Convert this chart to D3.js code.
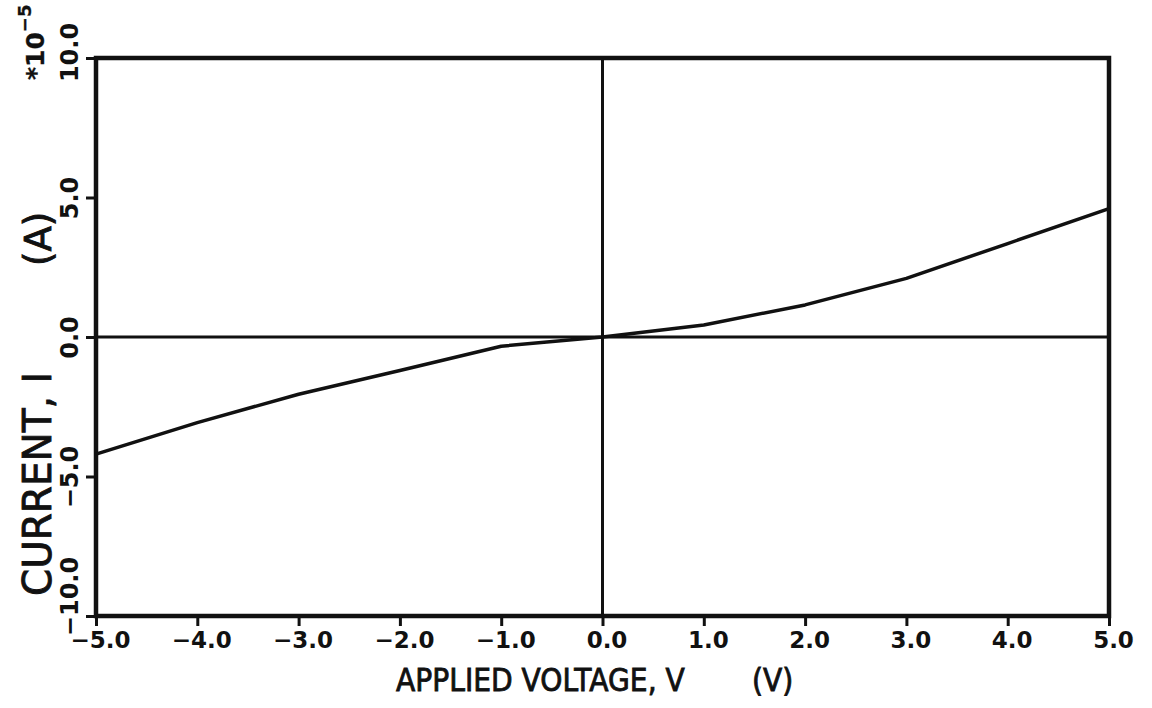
<!DOCTYPE html>
<html>
<head>
<meta charset="utf-8">
<script src="https://cdn.jsdelivr.net/npm/d3@7"></script>
<style>
  body { margin: 0; background: #fff; }
  svg { display: block; }
  .tick text { font-family: "DejaVu Sans", sans-serif; font-weight: bold; fill: #111; }
  .lbl { font-family: "DejaVu Sans", sans-serif; fill: #111; stroke: #111; stroke-width: 0.9px; }
</style>
</head>
<body>
<div class="chart"></div>
<script>
// I-V curve, current in units of 1e-5 A
const voltage = [-5, -4, -3, -2, -1, 0, 1, 2, 3, 4, 5];
const current = [-4.2, -3.07, -2.05, -1.2, -0.33, 0, 0.43, 1.15, 2.1, 3.35, 4.6];
const xTicks = [-5, -4, -3, -2, -1, 0, 1, 2, 3, 4, 5];
const yTicks = [-10, -5, 0, 5, 10];

const width = 1152, height = 708;
const margin = { top: 58, right: 43, bottom: 92, left: 96 };
const plotW = width - margin.left - margin.right;
const plotH = height - margin.top - margin.bottom;

const svg = d3.select(".chart").append("svg")
  .attr("width", width)
  .attr("height", height);

const g = svg.append("g")
  .attr("transform", `translate(${margin.left},${margin.top})`);

const x = d3.scaleLinear().domain([-5, 5]).range([0, plotW]);
const y = d3.scaleLinear().domain([-10, 10]).range([plotH, 0]);

// x axis
const xAxis = g.append("g")
  .attr("transform", `translate(0,${plotH})`)
  .call(d3.axisBottom(x).tickValues(xTicks).tickSize(10).tickPadding(6).tickFormat(d3.format(".1f")));
xAxis.select(".domain").remove();
xAxis.selectAll(".tick line").attr("stroke", "#111").attr("stroke-width", 3);
xAxis.selectAll(".tick text").style("font-size", "23px").attr("dx", 4);

// y axis, labels turned to read upward; end labels pulled inward a bit
const yAxis = g.append("g")
  .call(d3.axisLeft(y).tickValues(yTicks).tickSize(10).tickFormat(d3.format(".1f")));
yAxis.select(".domain").remove();
yAxis.selectAll(".tick line").attr("stroke", "#111").attr("stroke-width", 3);
yAxis.selectAll(".tick text")
  .style("font-size", "24px")
  .attr("text-anchor", "middle")
  .attr("x", null).attr("dy", null)
  .attr("transform", d => `translate(-18,${d === 10 ? -6 : d === -10 ? -20 : 0}) rotate(-90)`);

// zero lines
g.append("line")
  .attr("x1", 0).attr("x2", plotW)
  .attr("y1", y(0)).attr("y2", y(0))
  .attr("stroke", "#111").attr("stroke-width", 3);
g.append("line")
  .attr("x1", x(0)).attr("x2", x(0))
  .attr("y1", 0).attr("y2", plotH)
  .attr("stroke", "#111").attr("stroke-width", 3);

// frame
g.append("rect")
  .attr("width", plotW).attr("height", plotH)
  .attr("fill", "none").attr("stroke", "#111").attr("stroke-width", 4.5);

// curve
const line = d3.line()
  .x((d, i) => x(voltage[i]))
  .y(d => y(d));
g.append("path")
  .datum(current)
  .attr("d", line)
  .attr("fill", "none")
  .attr("stroke", "#111")
  .attr("stroke-width", 3.5)
  .attr("stroke-linejoin", "round");

// axis titles
svg.append("text").attr("class", "lbl")
  .attr("transform", "translate(396,691) scale(0.88,1)")
  .style("font-size", "32px")
  .text("APPLIED VOLTAGE, V");
svg.append("text").attr("class", "lbl")
  .attr("transform", "translate(752,691) scale(0.88,1)")
  .style("font-size", "32px")
  .text("(V)");

svg.append("text").attr("class", "lbl")
  .attr("transform", "translate(51,596) rotate(-90)")
  .style("font-size", "39px")
  .text("CURRENT, I");
svg.append("text").attr("class", "lbl")
  .attr("transform", "translate(51,266) rotate(-90)")
  .style("font-size", "37px")
  .text("(A)");

// exponent
const exp = svg.append("text").attr("class", "lbl")
  .attr("transform", "translate(44,80) rotate(-90)")
  .style("font-size", "25px")
  .style("font-weight", "bold")
  .style("stroke-width", "0.3px");
exp.append("tspan").text("*10");
exp.append("tspan").attr("dy", -13).style("font-size", "18px").text("−5");
</script>
</body>
</html>
